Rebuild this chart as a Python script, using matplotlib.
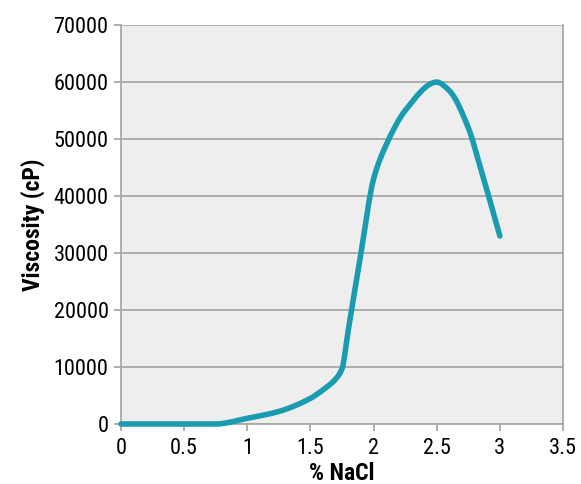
import matplotlib
matplotlib.use("Agg")
import matplotlib.pyplot as plt
from matplotlib import font_manager
from matplotlib.path import Path
from matplotlib.patches import PathPatch

# datos
nacl = [0, 0.25, 0.5, 0.75, 1.0, 1.25, 1.5, 1.6, 1.7, 1.75, 1.8, 1.9, 2.0, 2.1,
        2.25, 2.5, 2.6, 2.75, 2.85, 3.0]
viscosidad = [0, 0, 0, 0, 1000, 2200, 4500, 6000, 7900, 9700, 16500, 30000, 43000,
              49000, 55000, 60000, 58500, 52000, 44700, 33000]
xticks = [0, 0.5, 1, 1.5, 2, 2.5, 3, 3.5]
yticks = [0, 10000, 20000, 30000, 40000, 50000, 60000, 70000]

nombres = {f.name for f in font_manager.fontManager.ttflist}
fuente = 'DejaVu Sans'
for f in ['Roboto Condensed', 'Liberation Sans Narrow', 'Open Sans Condensed']:
    if f in nombres:
        fuente = f
        break
plt.rcParams['font.family'] = [fuente, 'DejaVu Sans']
plt.rcParams['font.stretch'] = 'condensed'

GRIS = '#a8a8a8'
COLOR = '#1a9cb0'


def curva_suave(xs, ys):
    # linea suavizada: hermite cubico con pendientes tipo pchip, como bezier
    n = len(xs)
    h = [xs[i + 1] - xs[i] for i in range(n - 1)]
    d = [(ys[i + 1] - ys[i]) / h[i] for i in range(n - 1)]
    m = [0.0] * n
    m[0], m[-1] = d[0], d[-1]
    for k in range(1, n - 1):
        if d[k - 1] * d[k] > 0:
            w1 = 2 * h[k] + h[k - 1]
            w2 = h[k] + 2 * h[k - 1]
            m[k] = (w1 + w2) / (w1 / d[k - 1] + w2 / d[k])
    verts = [(xs[0], ys[0])]
    codes = [Path.MOVETO]
    for i in range(n - 1):
        c1 = (xs[i] + h[i] / 3, ys[i] + m[i] * h[i] / 3)
        c2 = (xs[i + 1] - h[i] / 3, ys[i + 1] - m[i + 1] * h[i] / 3)
        verts += [c1, c2, (xs[i + 1], ys[i + 1])]
        codes += [Path.CURVE4] * 3
    return Path(verts, codes)


fig = plt.figure(figsize=(5.81, 4.84), dpi=100)
ax = fig.add_axes([0.2083, 0.124, 0.7607, 0.824])
ax.set_facecolor('#eeeeee')

patch = PathPatch(curva_suave(nacl, viscosidad), facecolor='none', edgecolor=COLOR,
                  linewidth=4, capstyle='round', joinstyle='round', zorder=3,
                  clip_on=False)
ax.add_patch(patch)

ax.set_xlim(0, 3.5)
ax.set_ylim(0, 70000)
ax.set_xticks(xticks)
ax.set_xticklabels([f"{t:g}" for t in xticks])
ax.set_yticks(yticks)
ax.set_yticklabels([str(t) for t in yticks])
ax.grid(axis='y', color=GRIS, linewidth=1.3, zorder=1)
ax.set_axisbelow(True)

for lado in ['left', 'right', 'bottom']:
    ax.spines[lado].set_color(GRIS)
    ax.spines[lado].set_linewidth(1.3)
ax.spines['top'].set_visible(False)

ax.tick_params(axis='both', colors=GRIS, length=5, width=1.3, labelsize=16,
               labelcolor='black')
ax.tick_params(axis='x', pad=5)
ax.tick_params(axis='y', pad=4)

ax.set_xlabel('% NaCl', fontsize=17, fontweight='bold', labelpad=2)
ax.set_ylabel('Viscosity (cP)', fontsize=17, fontweight='bold', labelpad=6)

fig.savefig('out.png', dpi=100)
